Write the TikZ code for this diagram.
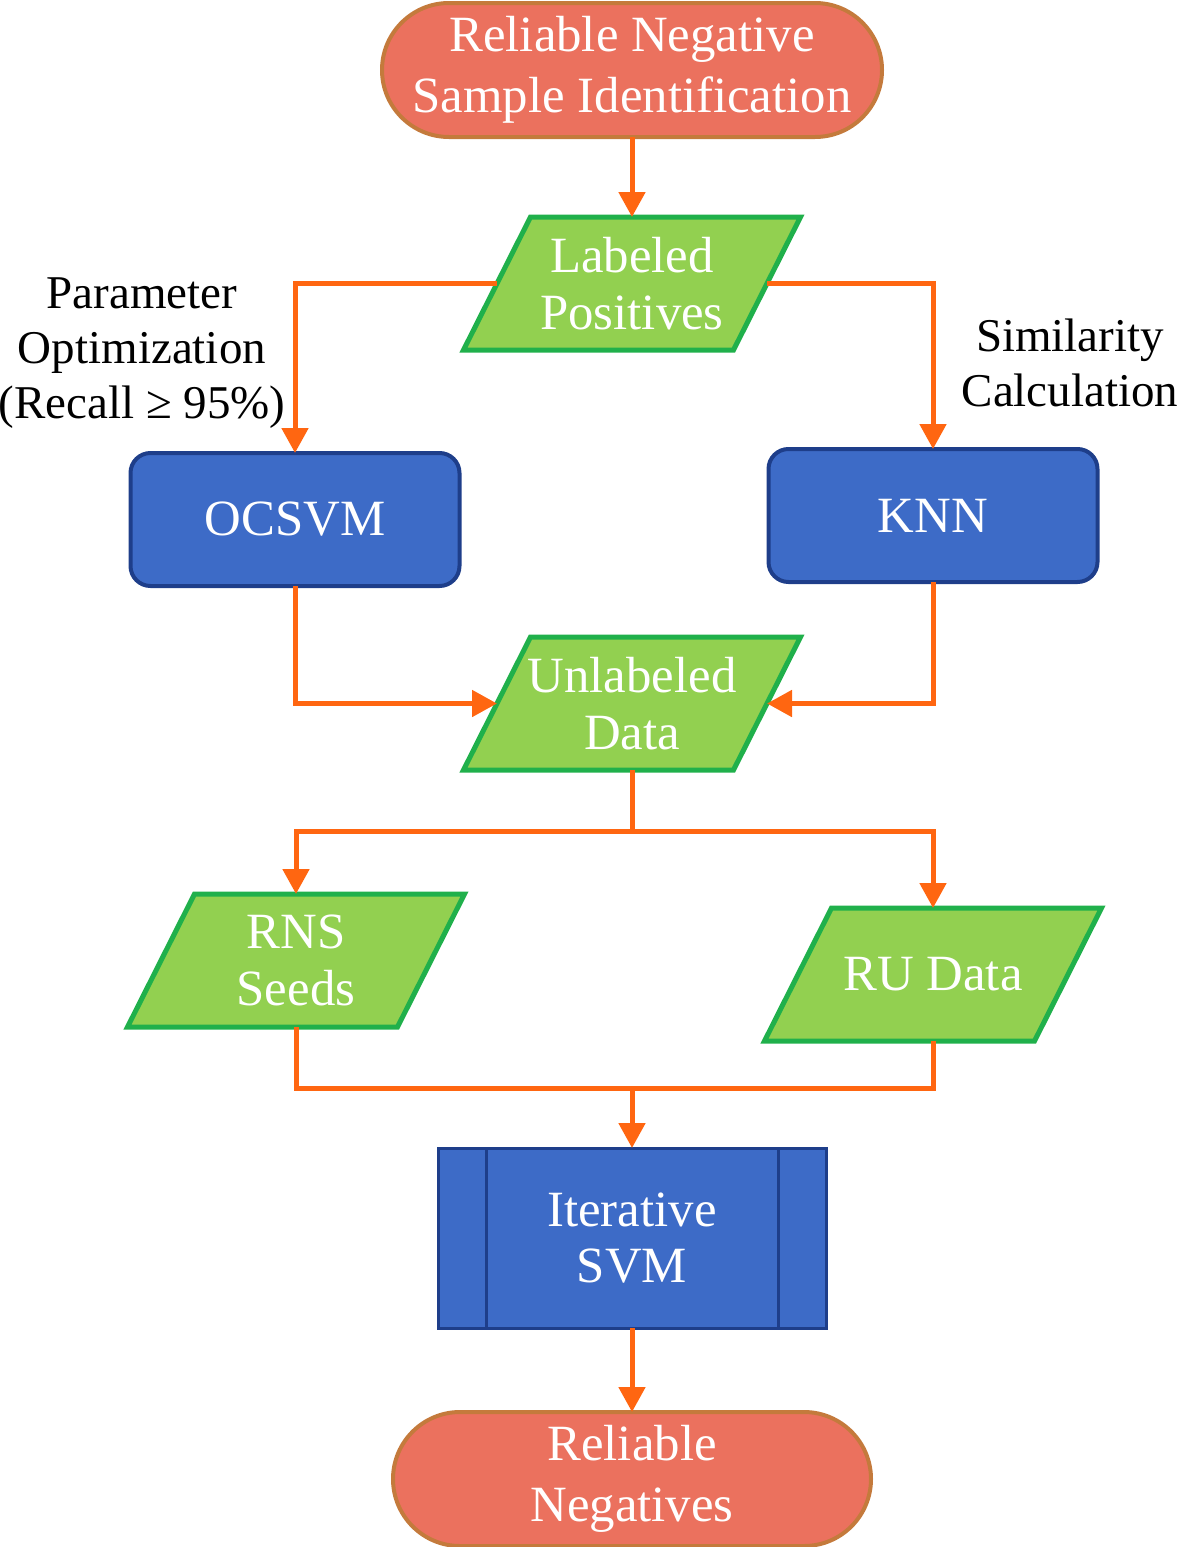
\documentclass[tikz,border=0pt]{standalone}
\usepackage{fontspec}
\setmainfont{Liberation Serif}
\usetikzlibrary{positioning,backgrounds,arrows.meta}
\definecolor{arrorange}{HTML}{FF6611}
\definecolor{termfill}{HTML}{EB715E}
\definecolor{termborder}{HTML}{C47A3C}
\definecolor{datfill}{HTML}{92D050}
\definecolor{datborder}{HTML}{20B04B}
\definecolor{procfill}{HTML}{3D6BC7}
\definecolor{procborder}{HTML}{1E3E8A}

\begin{document}
\begin{tikzpicture}[%
  >={Triangle[width=13pt,length=12.5pt]},
  font=\fontsize{25.4pt}{30.5pt}\selectfont,
  every node/.style={outer sep=0pt},
  pil/.style={
    ->,
    line width=2.5pt,
    draw=arrorange,},
  lin/.style={
    line width=2.5pt,
    draw=arrorange,},
  term/.style={
    draw=termborder, fill=termfill, line width=2pt,
    rounded corners=33.5pt, minimum width=250pt, minimum height=67pt,
    text=white, align=center, inner sep=0pt,},
  proc/.style={
    draw=procborder, fill=procfill, line width=2pt,
    rounded corners=10pt, minimum width=164.5pt, minimum height=66.5pt,
    text=white, align=center, inner sep=0pt,},
  dat/.style={
    minimum width=135pt, minimum height=66.5pt,
    text=white, align=center, inner sep=0pt,
    font=\fontsize{25.4pt}{28.5pt}\selectfont,},
  datshape/.style={
    draw=datborder, fill=datfill, line width=2.5pt,},
  subproc/.style={
    draw=procborder, fill=procfill, line width=1.5pt,
    minimum width=194pt, minimum height=90pt,
    text=white, align=center, inner sep=0pt,
    font=\fontsize{25.4pt}{28pt}\selectfont,},
  sidelbl/.style={
    align=center, inner sep=0pt,
    font=\fontsize{23.5pt}{27.5pt}\selectfont,}
  ]
  \useasboundingbox (0,0) rectangle (589.5pt,-773.5pt);
  %% Nodes
  \node[term] (start) at (316pt,-35pt) {Reliable Negative\\Sample Identification};
  \node[dat, below = 40pt of start] (lab) {Labeled\\Positives};
  \node[proc, below = 51.5pt of lab, xshift=-168.5pt] (ocsvm) {OCSVM};
  \node[proc, below = 49.5pt of lab, xshift=150.5pt] (knn) {KNN};
  \node[dat, below = 143.5pt of lab] (unl) {Unlabeled\\Data};
  \node[dat, below = 62pt of unl, xshift=-168pt] (rns) {RNS\\Seeds};
  \node[dat, below = 69pt of unl, xshift=150.5pt] (ru) {RU Data};
  \node[subproc, below = 189pt of unl] (isvm) {Iterative\\SVM};
  \node[term, minimum width=239pt, below = 42pt of isvm] (stop) {Reliable\\Negatives};
  \node[sidelbl] (popt) at ([xshift=-76.5pt,yshift=83.25pt]ocsvm.center)
    {Parameter\\Optimization\\(Recall ≥ 95\%)};
  \node[sidelbl] (simc) at ([xshift=68.5pt,yshift=76.5pt]knn.center)
    {Similarity\\Calculation};
  \coordinate[below = 30.5pt of unl.south] (split);
  \coordinate[above = 30pt of isvm.north] (join);
  %% Parallelograms behind the data nodes
  \begin{scope}[on background layer]
    \draw[datshape] ([xshift=16.75pt]lab.north west) -- ([xshift=16.75pt]lab.north east)
      -- ([xshift=-16.75pt]lab.south east) -- ([xshift=-16.75pt]lab.south west) -- cycle;
    \draw[datshape] ([xshift=16.75pt]unl.north west) -- ([xshift=16.75pt]unl.north east)
      -- ([xshift=-16.75pt]unl.south east) -- ([xshift=-16.75pt]unl.south west) -- cycle;
    \draw[datshape] ([xshift=16.75pt]rns.north west) -- ([xshift=16.75pt]rns.north east)
      -- ([xshift=-16.75pt]rns.south east) -- ([xshift=-16.75pt]rns.south west) -- cycle;
    \draw[datshape] ([xshift=16.75pt]ru.north west) -- ([xshift=16.75pt]ru.north east)
      -- ([xshift=-16.75pt]ru.south east) -- ([xshift=-16.75pt]ru.south west) -- cycle;
  \end{scope}
  %% Inner bars
  \draw[procborder, line width=1.5pt] ([xshift=24pt]isvm.north west) -- ([xshift=24pt]isvm.south west);
  \draw[procborder, line width=1.5pt] ([xshift=-24pt]isvm.north east) -- ([xshift=-24pt]isvm.south east);
  %% Edges
  \draw[pil] (start) to (lab);
  \draw[pil] (lab.west) -| (ocsvm.north);
  \draw[pil] (lab.east) -| (knn.north);
  \draw[pil] (ocsvm.south) |- (unl.west);
  \draw[pil] (knn.south) |- (unl.east);
  \draw[lin] (unl.south) -- (split);
  \draw[pil] (split) -| (rns.north);
  \draw[pil] (split) -| (ru.north);
  \draw[lin] (rns.south) |- (join);
  \draw[lin] (ru.south) |- (join);
  \draw[pil] (join) to (isvm);
  \draw[pil] (isvm) to (stop);
\end{tikzpicture}
\end{document}
